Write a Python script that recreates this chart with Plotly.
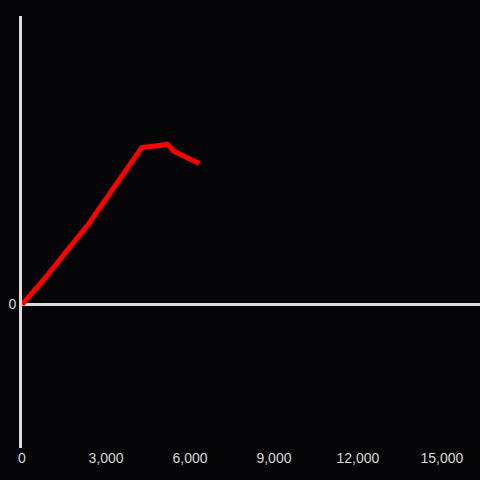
import plotly.graph_objects as go

# data
x_vals = [0, 780, 2390, 4275, 5200, 5440, 6330]
y_vals = [0, 25, 81, 157, 160, 153, 141]
x_ticks = [0, 3000, 6000, 9000, 12000, 15000]
y_ticks = [0]

bg = "#050507"
axis_col = "#dcdcdc"
text_col = "#d8d8d8"

fig = go.Figure()
fig.add_trace(go.Scatter(
    x=x_vals,
    y=y_vals,
    mode="lines",
    line=dict(color="#ff0000", width=5),
    showlegend=False,
))

fig.update_layout(
    width=480,
    height=480,
    paper_bgcolor=bg,
    plot_bgcolor=bg,
    margin=dict(l=22, r=0, t=16, b=32),
    font=dict(family="Liberation Sans, Arial, sans-serif", size=14, color=text_col),
    xaxis=dict(
        range=[0, 16360],
        tickvals=x_ticks,
        tickformat=",d",
        showgrid=False,
        zeroline=False,
        showline=False,
        automargin=False,
    ),
    yaxis=dict(
        range=[-143.5, 288.5],
        tickvals=y_ticks,
        showgrid=False,
        zeroline=True,
        zerolinecolor=axis_col,
        zerolinewidth=3,
        showline=True,
        linecolor=axis_col,
        linewidth=3,
        automargin=False,
    ),
)

# page has a default body margin; drop it so the figure fills the window
fig.write_html(
    "out.html",
    config={"displayModeBar": False},
    post_script="document.body.style.margin='0';document.body.style.background='%s';" % bg,
)
